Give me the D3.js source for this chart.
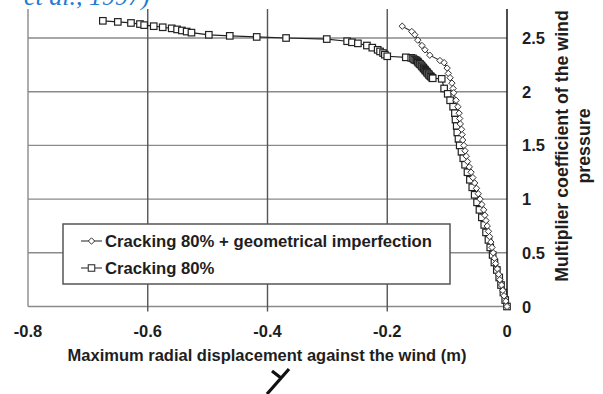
<!DOCTYPE html>
<html>
<head>
<meta charset="utf-8">
<script src="https://cdn.jsdelivr.net/npm/d3@7"></script>
<style>
  html, body { margin: 0; padding: 0; background: #fff; }
  svg { display: block; }
  text { font-family: "Liberation Sans", Arial, sans-serif; font-weight: bold; fill: #1e1e1e; }
</style>
</head>
<body>
<svg id="chart" width="603" height="394"></svg>
<script>
// ---- Data ----
const xTicks = [-0.8, -0.6, -0.4, -0.2, 0];
const yTicks = [0, 0.5, 1, 1.5, 2, 2.5];
const xTickLabels = ["-0.8", "-0.6", "-0.4", "-0.2", "0"];
const yTickLabels = ["0", "0.5", "1", "1.5", "2", "2.5"];
const seriesNames = ["Cracking 80% + geometrical imperfection", "Cracking 80%"];
const xTitle = "Maximum radial displacement against the wind (m)";
const yTitleLines = ["Multiplier coefficient of the wind", "pressure"];

// Cracking 80% (squares)
const crackX = [-0.675,-0.650,-0.628,-0.613,-0.606,-0.590,-0.575,-0.560,-0.551,-0.543,-0.535,-0.527,-0.498,-0.463,-0.418,-0.369,
  -0.301,-0.267,-0.259,-0.249,-0.234,-0.225,-0.216,-0.212,-0.207,-0.204,-0.200,-0.169,-0.160,
  -0.157,-0.155,-0.153,-0.151,-0.149,-0.148,-0.146,-0.145,-0.143,-0.142,-0.140,-0.139,-0.137,-0.136,-0.134,-0.133,-0.131,-0.130,-0.128,-0.127,-0.125,-0.124,
  -0.109,-0.105,-0.099,-0.095,-0.090,-0.087,
  -0.086,-0.084,-0.083,-0.081,-0.079,-0.076,-0.073,-0.070,-0.066,-0.062,-0.058,-0.054,-0.050,-0.046,-0.042,-0.038,-0.035,-0.031,-0.028,-0.024,-0.021,-0.017,-0.013,-0.010,-0.006,-0.003,0.000];
const crackY = [2.66,2.65,2.64,2.63,2.62,2.61,2.60,2.59,2.58,2.57,2.56,2.55,2.53,2.52,2.51,2.50,
  2.49,2.47,2.46,2.45,2.43,2.41,2.39,2.375,2.36,2.345,2.33,2.32,2.315,
  2.31,2.30,2.295,2.29,2.28,2.27,2.26,2.255,2.245,2.235,2.225,2.215,2.205,2.195,2.185,2.175,2.165,2.155,2.145,2.14,2.13,2.125,
  2.12,2.03,1.98,1.92,1.86,1.80,
  1.74,1.68,1.62,1.56,1.50,1.44,1.38,1.32,1.25,1.18,1.11,1.04,0.97,0.90,0.83,0.76,0.69,0.62,0.55,0.48,0.41,0.34,0.27,0.20,0.13,0.06,0.00];

// Cracking 80% + geometrical imperfection (diamonds)
const imperfX = [-0.175,-0.159,-0.154,-0.149,-0.142,-0.137,-0.129,-0.112,-0.105,-0.100,-0.098,-0.095,-0.092,-0.090,-0.089,-0.085,-0.082,-0.080,
  -0.079,-0.078,-0.076,-0.075,-0.074,-0.072,-0.070,-0.068,-0.066,-0.063,-0.060,-0.057,-0.054,-0.051,-0.048,-0.045,-0.042,-0.039,-0.037,
  -0.035,-0.033,-0.031,-0.029,-0.027,-0.025,-0.023,-0.021,-0.019,-0.016,-0.014,-0.012,-0.009,-0.007,-0.005,-0.002,0.000];
const imperfY = [2.61,2.56,2.53,2.48,2.43,2.39,2.34,2.29,2.27,2.22,2.17,2.13,2.08,2.03,1.99,1.92,1.86,1.80,
  1.75,1.70,1.65,1.60,1.55,1.50,1.45,1.40,1.35,1.30,1.25,1.20,1.15,1.10,1.05,1.00,0.95,0.90,0.85,
  0.80,0.75,0.70,0.65,0.60,0.55,0.50,0.45,0.40,0.35,0.30,0.25,0.20,0.15,0.10,0.05,0.00];

const yTop = 2.77; // where the plot is cut at the top

// ---- Layout ----
const svg = d3.select("#chart");
const x = d3.scaleLinear().domain([-0.8, 0]).range([28, 507]);
const y = d3.scaleLinear().domain([0, 2.5]).range([306.5, 38]);
const gridColor = "#8a8a8a";

// blue caption fragment at top (cut off in the original too)
svg.append("text")
  .attr("x", 24).attr("y", 5)
  .style("font-family", "'Liberation Serif', 'Times New Roman', serif")
  .style("font-style", "italic").style("font-weight", "normal")
  .style("font-size", "26px").style("fill", "#1f7bd0")
  .text("et al., 1997)");

// horizontal gridlines
svg.append("g").selectAll("line").data(yTicks).join("line")
  .attr("x1", x(-0.8)).attr("x2", x(0))
  .attr("y1", d => y(d)).attr("y2", d => y(d))
  .attr("stroke", gridColor).attr("stroke-width", 1.4);

// vertical gridlines (with small ticks below the bottom)
svg.append("g").selectAll("line").data(xTicks.slice(0, -1)).join("line")
  .attr("x1", d => x(d)).attr("x2", d => x(d))
  .attr("y1", y(yTop)).attr("y2", d => d === -0.8 ? y(0) : y(0) + 5)
  .attr("stroke", d => d === -0.8 ? gridColor : "#555").attr("stroke-width", 1.4);

// right axis line
svg.append("line")
  .attr("x1", x(0)).attr("x2", x(0)).attr("y1", y(yTop)).attr("y2", y(0))
  .attr("stroke", "#222").attr("stroke-width", 1.6);

// x tick labels
svg.append("g").selectAll("text").data(xTicks).join("text")
  .attr("x", d => x(d)).attr("y", 337)
  .attr("text-anchor", "middle").style("font-size", "16.5px")
  .text((d, i) => xTickLabels[i]);

// y tick labels (right side)
svg.append("g").selectAll("text").data(yTicks).join("text")
  .attr("x", x(0) + 15).attr("y", d => y(d) + 6)
  .style("font-size", "16.5px")
  .text((d, i) => yTickLabels[i]);

// axis titles
svg.append("text")
  .attr("x", 267).attr("y", 361).attr("text-anchor", "middle")
  .style("font-size", "16.5px").text(xTitle);

const yt = svg.append("text")
  .attr("transform", "translate(568,146) rotate(-90)")
  .attr("text-anchor", "middle").style("font-size", "17.8px");
yTitleLines.forEach((l, i) => {
  yt.append("tspan").attr("x", 0).attr("dy", i === 0 ? 0 : 22).text(l);
});

// ---- Series ----
const line = d3.line().x(d => x(d[0])).y(d => y(d[1]));
const crack = crackX.map((v, i) => [v, crackY[i]]);
const imperf = imperfX.map((v, i) => [v, imperfY[i]]);

const sq = 6.5, dm = 3.2;
const diamondPath = `M0,${-dm}L${dm},0L0,${dm}L${-dm},0Z`;

// squares series
svg.append("path").datum(crack).attr("d", line)
  .attr("fill", "none").attr("stroke", "#222").attr("stroke-width", 1.2);
svg.append("g").selectAll("rect").data(crack).join("rect")
  .attr("x", d => x(d[0]) - sq / 2).attr("y", d => y(d[1]) - sq / 2)
  .attr("width", sq).attr("height", sq)
  .attr("fill", "#fff").attr("stroke", "#222").attr("stroke-width", 1.2);

// diamonds series
svg.append("path").datum(imperf).attr("d", line)
  .attr("fill", "none").attr("stroke", "#333").attr("stroke-width", 1.1);
svg.append("g").selectAll("path").data(imperf).join("path")
  .attr("transform", d => `translate(${x(d[0])},${y(d[1])})`)
  .attr("d", diamondPath)
  .attr("fill", "#fff").attr("stroke", "#333").attr("stroke-width", 1);

// ---- Legend ----
const lg = svg.append("g");
lg.append("rect").attr("x", 63).attr("y", 224).attr("width", 387).attr("height", 60)
  .attr("fill", "#fff").attr("stroke", "#555").attr("stroke-width", 1.5);
const rows = [241, 268];
seriesNames.forEach((name, i) => {
  const cy = rows[i];
  lg.append("line").attr("x1", 81).attr("x2", 102).attr("y1", cy).attr("y2", cy)
    .attr("stroke", "#333").attr("stroke-width", 1.1);
  if (i === 0) {
    lg.append("path").attr("transform", `translate(91.5,${cy})`).attr("d", diamondPath)
      .attr("fill", "#fff").attr("stroke", "#333").attr("stroke-width", 1);
  } else {
    lg.append("rect").attr("x", 91.5 - sq / 2).attr("y", cy - sq / 2).attr("width", sq).attr("height", sq)
      .attr("fill", "#fff").attr("stroke", "#333").attr("stroke-width", 1.1);
  }
  lg.append("text").attr("x", 105).attr("y", cy + 6).style("font-size", "16.7px").text(name);
});

// decorative stroke fragment at bottom (part of a figure below)
svg.append("path")
  .attr("d", "M272,371L281,378M289,369L267,394")
  .attr("stroke", "#111").attr("stroke-width", 3.2).attr("fill", "none");
</script>
</body>
</html>
